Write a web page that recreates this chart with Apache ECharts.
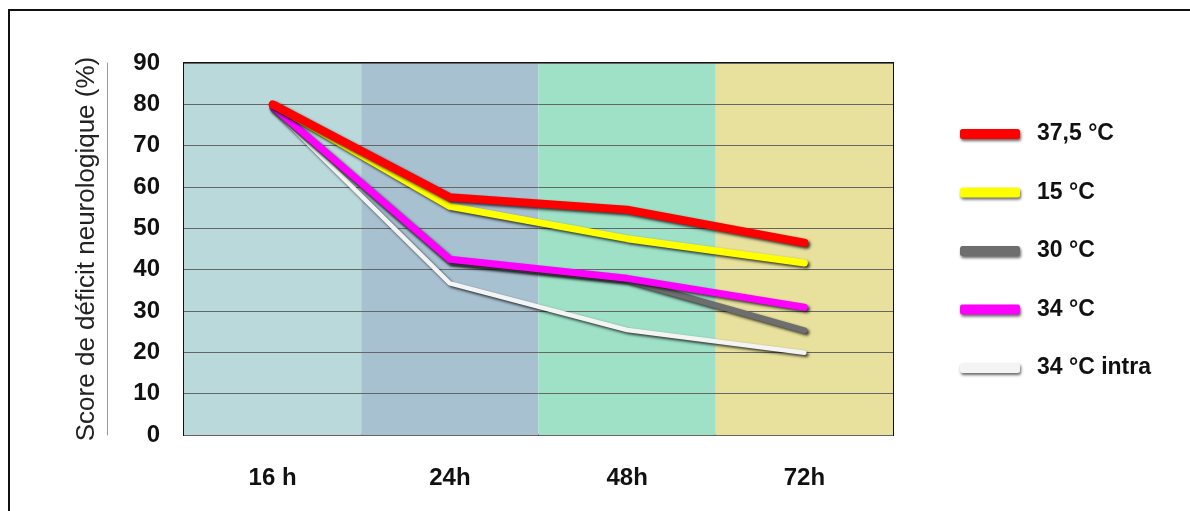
<!DOCTYPE html>
<html>
<head>
<meta charset="utf-8">
<script src="https://cdn.jsdelivr.net/npm/echarts@6/dist/echarts.min.js"></script>
<style>
html,body{margin:0;padding:0;background:#fff;}
#chart{width:1190px;height:511px;}
</style>
</head>
<body>
<div id="chart"></div>
<script>
var categories = ['16 h', '24h', '48h', '72h'];
var seriesNames = ['37,5 °C', '15 °C', '30 °C', '34 °C', '34 °C intra'];
var red375 = [80, 57.5, 54.5, 46.5];
var yellow15 = [80, 55.3, 47.5, 41.6];
var gray30 = [79, 42, 37.5, 25.3];
var magenta34 = [79.5, 42.5, 37.9, 30.9];
var white34intra = [79, 36.7, 25.4, 19.9];
var yTicks = [0, 10, 20, 30, 40, 50, 60, 70, 80, 90];

var font = '"Liberation Sans", Arial, sans-serif';
var shadow = {shadowColor: 'rgba(0,0,0,0.75)', shadowBlur: 3, shadowOffsetX: 2, shadowOffsetY: 2};

function mkLine(name, data, color, width, z) {
  return {
    name: name, type: 'line', data: data, symbol: 'none', z: z,
    lineStyle: Object.assign({color: color, width: width, cap: 'round', join: 'round'}, shadow),
    itemStyle: {color: color},
    emphasis: {disabled: true}
  };
}

var chart = echarts.init(document.getElementById('chart'), null, {renderer: 'canvas'});
chart.setOption({
  animation: false,
  backgroundColor: '#ffffff',
  graphic: [{
    type: 'rect', silent: true, z: -10,
    shape: {x: 9, y: 10, width: 1200, height: 520},
    style: {fill: 'none', stroke: '#111', lineWidth: 2}
  }],
  grid: {left: 184, right: 297, top: 63, bottom: 76, show: true, borderColor: '#111', borderWidth: 2, backgroundColor: 'transparent'},
  legend: {
    orient: 'vertical', left: 955, top: 117,
    itemWidth: 60, itemHeight: 10, itemGap: 34.5,
    icon: 'roundRect',
    data: seriesNames,
    itemStyle: {shadowColor: 'rgba(0,0,0,0.6)', shadowBlur: 3, shadowOffsetX: 1, shadowOffsetY: 2},
    textStyle: {fontFamily: font, fontSize: 23, fontWeight: 'bold', color: '#111', lineHeight: 24, padding: [0, 0, 0, 12]}
  },
  xAxis: {
    type: 'category', data: categories, boundaryGap: true, z: 0,
    axisLine: {show: false}, axisTick: {show: false},
    axisLabel: {fontFamily: font, fontSize: 24, fontWeight: 'bold', color: '#111', margin: 31},
    splitArea: {show: true, areaStyle: {color: ['#bad9da', '#a8c1d1', '#9ee1c7', '#e7e19d']}}
  },
  yAxis: [{
    type: 'value', min: 0, max: 90, interval: 10, z: 2,
    axisLine: {show: false}, axisTick: {show: false},
    axisLabel: {fontFamily: font, fontSize: 24, fontWeight: 'bold', color: '#111', margin: 24},
    splitLine: {show: true, lineStyle: {color: '#666666', width: 1}},
    name: 'Score de déficit neurologique (%)', nameLocation: 'middle', nameRotate: 90, nameGap: 84,
    nameTextStyle: {fontFamily: font, fontSize: 26, color: '#222'}
  }, {
    type: 'value', min: 0, max: 90, interval: 10, position: 'left', offset: 77,
    axisLine: {show: true, lineStyle: {color: '#9a9a9a', width: 1}},
    axisTick: {show: false}, axisLabel: {show: false}, splitLine: {show: false}
  }],
  series: [
    mkLine(seriesNames[4], white34intra, '#f4f4f4', 4.5, 2),
    mkLine(seriesNames[2], gray30, '#6e6e6e', 6, 3),
    mkLine(seriesNames[3], magenta34, '#ff00ff', 7, 4),
    mkLine(seriesNames[1], yellow15, '#ffff00', 7, 5),
    mkLine(seriesNames[0], red375, '#ff0000', 8, 6)
  ]
});
</script>
</body>
</html>
